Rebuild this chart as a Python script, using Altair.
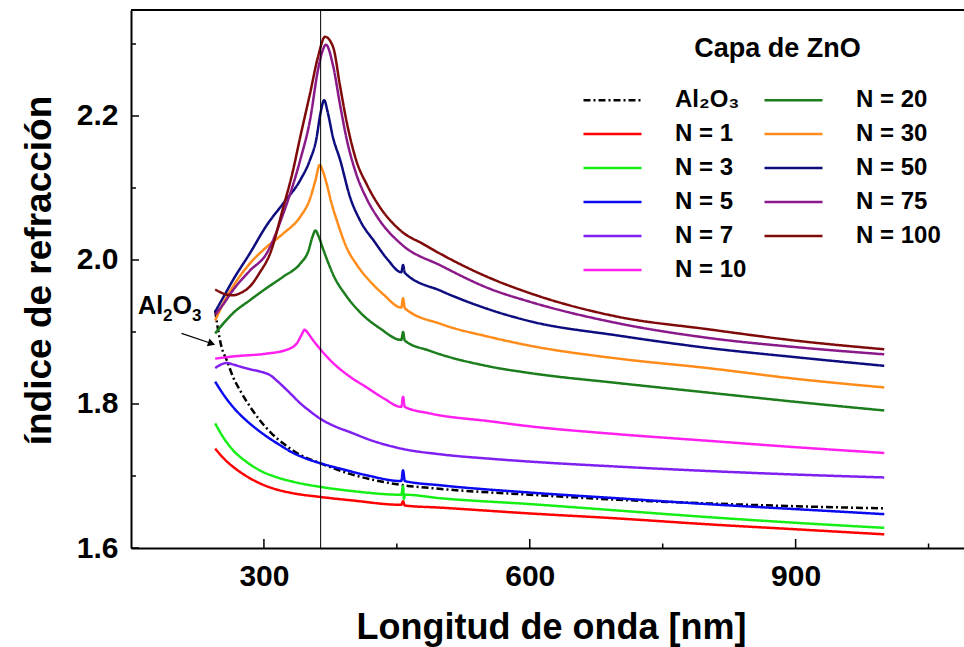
import altair as alt
import pandas as pd

FONT = "Liberation Sans, Arial, DejaVu Sans"

# ---------------- data ----------------
al2o3_wl = [245, 248, 252, 258, 265, 273, 284, 295, 308, 322, 340, 363, 397, 453, 500, 600, 700, 800, 900, 1000]
al2o3_n = [1.930, 1.905, 1.880, 1.861, 1.838, 1.819, 1.797, 1.778, 1.760, 1.745, 1.730, 1.718, 1.703, 1.688, 1.682, 1.674, 1.667, 1.662, 1.658, 1.655]

n1_wl = [245, 255, 265, 280, 295, 315, 333, 363, 400, 455, 457, 459, 500, 600, 700, 800, 900, 1000]
n1_n = [1.738, 1.724, 1.713, 1.700, 1.690, 1.681, 1.676, 1.671, 1.666, 1.660, 1.665, 1.659, 1.656, 1.648, 1.641, 1.633, 1.626, 1.619]

n3_wl = [245, 255, 265, 280, 295, 315, 333, 363, 400, 455, 457, 458, 459, 500, 600, 700, 800, 900, 1000]
n3_n = [1.773, 1.752, 1.736, 1.720, 1.708, 1.698, 1.692, 1.685, 1.679, 1.674, 1.686, 1.668, 1.674, 1.669, 1.661, 1.652, 1.643, 1.635, 1.628]

n5_wl = [245, 255, 265, 275, 284, 303, 318, 333, 348, 363, 390, 416, 455, 457, 459, 500, 600, 700, 800, 900, 1000]
n5_n = [1.831, 1.812, 1.796, 1.783, 1.773, 1.755, 1.743, 1.732, 1.724, 1.718, 1.709, 1.701, 1.693, 1.708, 1.693, 1.687, 1.677, 1.669, 1.661, 1.654, 1.647]

n7_wl = [245, 252, 258, 265, 273, 285, 296, 307, 315, 322, 332, 341, 352, 363, 380, 397, 420, 455, 500, 555, 600, 700, 800, 900, 1000]
n7_n = [1.850, 1.855, 1.857, 1.855, 1.852, 1.848, 1.845, 1.840, 1.832, 1.824, 1.812, 1.801, 1.790, 1.780, 1.769, 1.761, 1.750, 1.738, 1.730, 1.724, 1.720, 1.713, 1.707, 1.702, 1.698]

n10_wl = [245, 265, 303, 325, 337, 342, 346, 350, 354, 363, 378, 397, 416, 435, 455, 457, 459, 487, 555, 600, 700, 800, 900, 1000]
n10_n = [1.863, 1.866, 1.870, 1.875, 1.884, 1.895, 1.903, 1.898, 1.891, 1.877, 1.857, 1.838, 1.823, 1.808, 1.796, 1.810, 1.796, 1.787, 1.776, 1.769, 1.758, 1.749, 1.740, 1.732]

n20_wl = [245, 255, 265, 284, 303, 322, 341, 350, 355, 358, 362, 366, 372, 378, 393, 408, 431, 455, 457, 459, 487, 555, 600, 700, 800, 900, 1000]
n20_n = [1.898, 1.913, 1.926, 1.944, 1.961, 1.977, 1.995, 2.012, 2.033, 2.041, 2.032, 2.018, 1.998, 1.980, 1.950, 1.928, 1.905, 1.889, 1.900, 1.888, 1.874, 1.852, 1.843, 1.829, 1.816, 1.803, 1.791]

n30_wl = [245, 255, 265, 284, 303, 322, 341, 352, 358, 363, 366, 371, 376, 382, 393, 405, 420, 435, 455, 457, 459, 500, 555, 600, 700, 800, 900, 1000]
n30_n = [1.916, 1.942, 1.963, 1.995, 2.018, 2.037, 2.060, 2.085, 2.110, 2.132, 2.125, 2.105, 2.080, 2.056, 2.018, 1.993, 1.970, 1.952, 1.934, 1.947, 1.933, 1.911, 1.893, 1.881, 1.863, 1.850, 1.835, 1.823]

n50_wl = [245, 255, 265, 284, 303, 322, 341, 352, 359, 364, 368, 372, 378, 386, 397, 408, 425, 440, 455, 457, 459, 500, 555, 600, 700, 800, 900, 1000]
n50_n = [1.928, 1.950, 1.972, 2.009, 2.048, 2.079, 2.111, 2.139, 2.167, 2.205, 2.222, 2.205, 2.170, 2.139, 2.088, 2.056, 2.025, 2.000, 1.983, 1.993, 1.982, 1.957, 1.931, 1.915, 1.895, 1.878, 1.865, 1.853]

n75_wl = [245, 255, 265, 284, 303, 322, 341, 352, 361, 366, 370, 378, 386, 393, 404, 416, 430, 455, 500, 555, 600, 700, 800, 900, 1000]
n75_n = [1.924, 1.940, 1.958, 1.985, 2.009, 2.065, 2.139, 2.194, 2.264, 2.290, 2.299, 2.270, 2.215, 2.170, 2.120, 2.085, 2.056, 2.022, 1.992, 1.960, 1.942, 1.912, 1.892, 1.879, 1.869]

n100_wl = [245, 255, 265, 275, 284, 295, 307, 322, 332, 341, 352, 361, 369, 378, 386, 393, 404, 416, 430, 455, 480, 500, 555, 600, 700, 800, 900, 1000]
n100_n = [1.959, 1.953, 1.951, 1.955, 1.963, 1.982, 2.009, 2.074, 2.120, 2.171, 2.231, 2.282, 2.310, 2.296, 2.241, 2.194, 2.139, 2.105, 2.075, 2.040, 2.022, 2.008, 1.975, 1.954, 1.921, 1.904, 1.888, 1.876]

series_names = ["Al₂O₃", "N = 1", "N = 3", "N = 5", "N = 7", "N = 10",
                "N = 20", "N = 30", "N = 50", "N = 75", "N = 100"]
series_wl = [al2o3_wl, n1_wl, n3_wl, n5_wl, n7_wl, n10_wl, n20_wl, n30_wl, n50_wl, n75_wl, n100_wl]
series_n = [al2o3_n, n1_n, n3_n, n5_n, n7_n, n10_n, n20_n, n30_n, n50_n, n75_n, n100_n]
series_colors = ["#000000", "#ff0000", "#16ee16", "#0a0af0", "#8020f0", "#ff20f0",
                 "#1b7d1b", "#ff8c1a", "#0d0d80", "#8a1a8a", "#7f0a0a"]

legend_title = "Capa de ZnO"

x_major = [300, 600, 900]
x_minor = [450, 750, 1050]
y_major = [1.6, 1.8, 2.0, 2.2]
y_minor = [1.7, 1.9, 2.1, 2.3]

zno_line = 364  # vertical reference line (nm)

# "Al2O3" annotation with real subscripts: (text, is_subscript)
ann_parts = [("Al", False), ("2", True), ("O", False), ("3", True)]
ann_x, ann_y = 158, 1.925
arrow_x = [207, 241]
arrow_y = [1.898, 1.884]

# ---------------- layout ----------------
X_DOM = [150, 1090]
Y_DOM = [1.6, 2.3472]
W, H = 833, 538
PX_X = W / (X_DOM[1] - X_DOM[0])
PX_Y = H / (Y_DOM[1] - Y_DOM[0])

rows = []
for name, wl, nn in zip(series_names, series_wl, series_n):
    for a, b in zip(wl, nn):
        rows.append({"serie": name, "wl": a, "n": b})
df = pd.DataFrame(rows)

dashes = [[7, 3, 2, 3] if name == "Al₂O₃" else [1, 0] for name in series_names]

xs = alt.Scale(domain=X_DOM, nice=False, zero=False)
ys = alt.Scale(domain=Y_DOM, nice=False, zero=False)

legend = alt.Legend(
    title=None, orient="none",
    legendX=451, legendY=73.3, columns=2, symbolType="stroke",
    symbolSize=3364, symbolStrokeWidth=2.5, clipHeight=33.4,
    rowPadding=0, columnPadding=16, labelOffset=32,
    labelFont=FONT, labelFontSize=24, labelFontWeight="bold", labelColor="black",
    padding=0)

lines = alt.Chart(df).mark_line(strokeWidth=2.5, interpolate="monotone").encode(
    x=alt.X("wl:Q", scale=xs, title="Longitud de onda [nm]",
            axis=alt.Axis(values=x_major, format="d")),
    y=alt.Y("n:Q", scale=ys, title="índice de refracción",
            axis=alt.Axis(values=y_major, format=".1f")),
    color=alt.Color("serie:N", sort=series_names,
                    scale=alt.Scale(domain=series_names, range=series_colors),
                    legend=legend),
    strokeDash=alt.StrokeDash("serie:N", sort=series_names,
                              scale=alt.Scale(domain=series_names, range=dashes),
                              legend=legend),
)

# inward ticks
tick_rows = []
for v in x_major:
    tick_rows.append({"wl": v, "wl2": v, "n": Y_DOM[0], "n2": Y_DOM[0] + 9 / PX_Y})
for v in x_minor:
    tick_rows.append({"wl": v, "wl2": v, "n": Y_DOM[0], "n2": Y_DOM[0] + 4.5 / PX_Y})
for v in y_major:
    tick_rows.append({"wl": X_DOM[0], "wl2": X_DOM[0] + 8 / PX_X, "n": v, "n2": v})
for v in y_minor:
    tick_rows.append({"wl": X_DOM[0], "wl2": X_DOM[0] + 5 / PX_X, "n": v, "n2": v})
ticks = alt.Chart(pd.DataFrame(tick_rows)).mark_rule(color="black", strokeWidth=1.5).encode(
    x=alt.X("wl:Q", scale=xs), x2="wl2:Q",
    y=alt.Y("n:Q", scale=ys), y2="n2:Q")

frame_df = pd.DataFrame({"n": [Y_DOM[1]]})
top_frame = alt.Chart(frame_df).mark_rule(color="black", strokeWidth=2).encode(
    y=alt.Y("n:Q", scale=ys))

vline_df = pd.DataFrame({"wl": [zno_line]})
vline = alt.Chart(vline_df).mark_rule(color="black", strokeWidth=1).encode(
    x=alt.X("wl:Q", scale=xs))

# annotation text pieces (big / subscript), offsets are pure styling
BIG, SUB = 25, 17
ann_layers = []
dx = 0.0
widths = {"Al": (0.722 + 0.278) * BIG, "O": 0.778 * BIG, "2": 0.556 * SUB, "3": 0.556 * SUB}
for txt, is_sub in ann_parts:
    part_df = pd.DataFrame({"wl": [ann_x], "n": [ann_y], "t": [txt]})
    ann_layers.append(
        alt.Chart(part_df).mark_text(
            align="left", baseline="alphabetic", font=FONT,
            fontSize=SUB if is_sub else BIG, fontWeight="bold", color="black",
            dx=dx, dy=7 if is_sub else 0).encode(
            x=alt.X("wl:Q", scale=xs), y=alt.Y("n:Q", scale=ys), text="t:N"))
    dx += widths[txt]

arrow_df = pd.DataFrame({"wl": arrow_x, "n": arrow_y})
arrow_line = alt.Chart(arrow_df).mark_line(color="black", strokeWidth=1.2).encode(
    x=alt.X("wl:Q", scale=xs), y=alt.Y("n:Q", scale=ys))
arrow_head = alt.Chart(arrow_df.tail(1)).mark_point(
    shape="triangle-right", filled=True, color="black", size=70, angle=18, opacity=1).encode(
    x=alt.X("wl:Q", scale=xs), y=alt.Y("n:Q", scale=ys))

chart = alt.layer(lines, ticks, top_frame, vline, arrow_line, arrow_head, *ann_layers).properties(
    width=W, height=H,
    autosize=alt.AutoSizeParams(type="none"),
    padding={"left": 131, "top": 10, "right": 0, "bottom": 99},
    background="white",
    title=alt.TitleParams(legend_title, anchor="middle", frame="group", orient="top",
                          offset=0, baseline="alphabetic", dx=230, dy=75,
                          font=FONT, fontSize=27, fontWeight="bold", color="black"),
).configure_view(stroke=None).configure_axisX(
    labelFont=FONT, labelFontSize=30, labelFontWeight="bold", labelColor="black",
    labelPadding=13, ticks=False, grid=False,
    domainColor="black", domainWidth=2,
    titleFont=FONT, titleFontSize=36, titleFontWeight="bold", titleColor="black",
    titleX=420, titleY=90, titleBaseline="alphabetic",
).configure_axisY(
    labelFont=FONT, labelFontSize=30, labelFontWeight="bold", labelColor="black",
    labelPadding=13, ticks=False, grid=False,
    domainColor="black", domainWidth=2,
    titleFont=FONT, titleFontSize=37, titleFontWeight="bold", titleColor="black",
    titleX=-81, titleY=260, titleBaseline="alphabetic", titleAngle=270,
)

chart.save("out.html", embed_options={"renderer": "svg", "actions": False})
